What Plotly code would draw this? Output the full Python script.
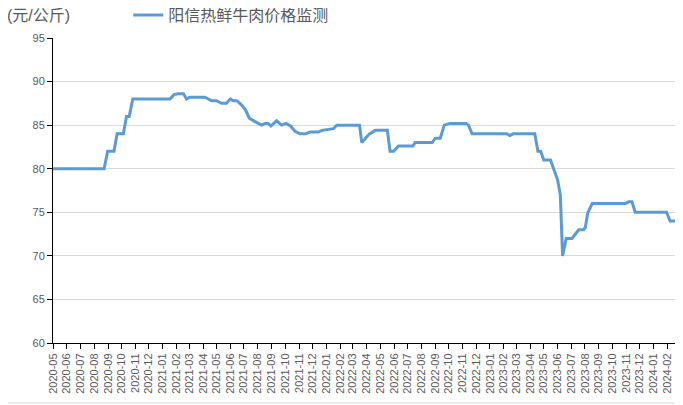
import plotly.graph_objects as go

# values (breakpoints of the line)
dates = [
    "2020-05-01", "2020-08-23", "2020-08-31", "2020-09-14", "2020-09-21",
    "2020-10-05", "2020-10-12", "2020-10-18", "2020-10-26", "2021-01-17",
    "2021-01-26", "2021-02-04", "2021-02-16", "2021-02-23", "2021-03-02",
    "2021-04-05", "2021-04-20", "2021-05-01", "2021-05-12", "2021-05-23",
    "2021-06-01", "2021-06-07", "2021-06-15", "2021-06-26", "2021-07-05",
    "2021-07-13", "2021-07-26", "2021-08-09", "2021-08-17", "2021-08-24",
    "2021-08-30", "2021-09-12", "2021-09-23", "2021-10-03", "2021-10-13",
    "2021-10-23", "2021-11-03", "2021-11-16", "2021-11-25", "2021-12-14",
    "2021-12-22", "2022-01-02", "2022-01-17", "2022-01-24", "2022-03-16",
    "2022-03-21", "2022-04-07", "2022-04-20", "2022-05-17", "2022-05-23",
    "2022-05-31", "2022-06-11", "2022-07-13", "2022-07-18", "2022-08-25",
    "2022-09-01", "2022-09-12", "2022-09-21", "2022-10-01", "2022-10-04",
    "2022-11-09", "2022-11-14", "2022-11-22", "2023-02-08", "2023-02-14",
    "2023-02-22", "2023-04-11", "2023-04-18", "2023-04-24", "2023-05-01",
    "2023-05-16", "2023-05-24", "2023-06-01", "2023-06-07", "2023-06-12",
    "2023-06-20", "2023-07-03", "2023-07-18", "2023-07-29", "2023-08-02",
    "2023-08-07", "2023-08-17", "2023-10-30", "2023-11-06", "2023-11-14",
    "2023-11-21", "2024-01-30", "2024-02-07", "2024-02-27",
]
prices = [
    80, 80, 82, 82, 84,
    84, 86, 86, 88, 88,
    88.5, 88.6, 88.6, 88.0, 88.2,
    88.2, 87.8, 87.8, 87.5, 87.5,
    88.0, 87.8, 87.8, 87.3, 86.7,
    85.8, 85.4, 85.0, 85.2, 85.2,
    84.9, 85.5, 85.0, 85.2, 84.9,
    84.3, 84.0, 84.0, 84.2, 84.2,
    84.4, 84.5, 84.6, 85.0, 85.0,
    83.0, 84.0, 84.4, 84.4, 82.0,
    82.0, 82.6, 82.6, 83.0, 83.0,
    83.5, 83.5, 85.0, 85.1, 85.2,
    85.2, 85.0, 84.0, 84.0, 83.8,
    84.0, 84.0, 82.0, 82.0, 81.0,
    81.0, 79.8, 78.7, 77.0, 70.0,
    72.0, 72.0, 73.0, 73.0, 73.3,
    74.9, 76.0, 76.0, 76.2, 76.2,
    75.0, 75.0, 74.0, 74.0,
]

series_name = "阳信热鲜牛肉价格监测"
unit_label = "(元/公斤)"

font_family = "Liberation Sans, Noto Sans CJK SC, sans-serif"
grey_text = "#595959"

fig = go.Figure()
fig.add_trace(go.Scatter(x=dates, y=prices, name=series_name, mode="lines",
                         line=dict(color="#5B9BD5", width=3)))

# page body has an 8px margin, so the figure is 8px smaller and shifted
fig.update_layout(
    width=675, height=397,
    margin=dict(l=45, r=3, t=30, b=62, autoexpand=False),
    paper_bgcolor="white", plot_bgcolor="white",
    font=dict(family=font_family, size=11, color=grey_text),
    showlegend=True,
    legend=dict(orientation="h", x=0.12, xanchor="left", y=1.075, yanchor="middle",
                font=dict(size=16, color=grey_text), bgcolor="rgba(0,0,0,0)"),
    annotations=[dict(text=unit_label, xref="paper", yref="paper",
                      x=-0.077, y=1.075, xanchor="left", yanchor="middle",
                      showarrow=False, font=dict(size=16, color=grey_text))],
    shapes=[dict(type="rect", xref="paper", yref="paper",
                 x0=-0.083, x1=1.0016, y0=-0.197, y1=1.121,
                 line=dict(color="#d9d9d9", width=1))],
)

fig.update_xaxes(
    type="date", range=["2020-05-01", "2024-02-29"], automargin=False,
    dtick="M1", tick0="2020-05-01", tickformat="%Y-%m", tickangle=-90,
    showgrid=False, showline=True, linecolor="black", linewidth=1,
    ticks="outside", ticklen=5, tickcolor="black",
    tickfont=dict(size=11, color=grey_text),
)
fig.update_yaxes(
    range=[60, 95], dtick=5, automargin=False,
    showgrid=True, gridcolor="#d9d9d9", gridwidth=1,
    showline=True, linecolor="black", linewidth=1,
    ticks="outside", ticklen=5, tickcolor="black",
    tickfont=dict(size=11, color=grey_text), zeroline=False,
)

fig.write_html("out.html")
